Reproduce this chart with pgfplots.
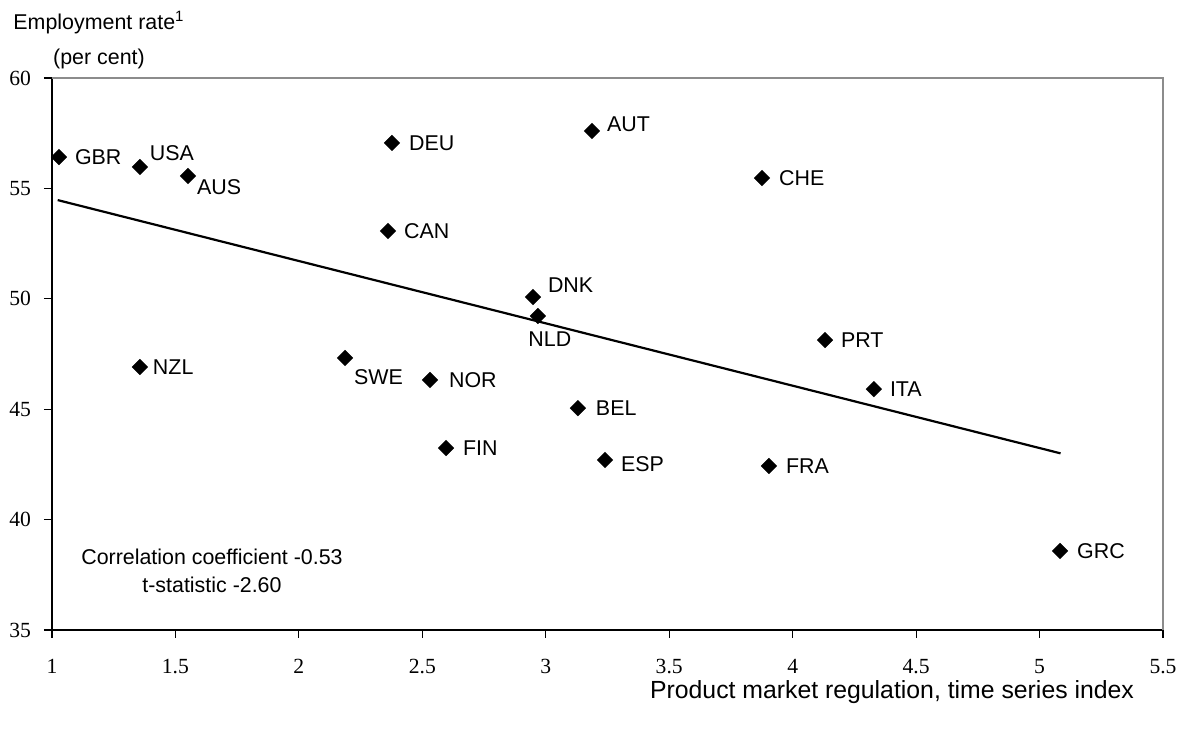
\documentclass[border=0pt]{standalone}
\usepackage{fontspec}
\setmainfont{Liberation Sans}
\newfontfamily\tickfont{Liberation Serif}
\usepackage{pgfplots}
\pgfplotsset{compat=1.18}

\begin{document}
\begin{tikzpicture}
\begin{axis}[
  scale only axis,
  width=555.5pt, height=276pt,
  xmin=1, xmax=5.5, ymin=35, ymax=60,
  axis x line=bottom, axis y line=left,
  axis line style={-, line width=0.8pt, black},
  xtick={1,1.5,2,2.5,3,3.5,4,4.5,5,5.5},
  ytick={35,40,45,50,55,60},
  tick align=outside,
  major tick length=4pt,
  tick style={black, line width=0.6pt},
  /pgf/number format/assume math mode=true,
  ticklabel style={font=\tickfont\fontsize{10.8}{12}\selectfont},
  xticklabel style={yshift=-7pt},
  yticklabel style={xshift=-3pt},
  clip=false,
]
\draw[gray!90, line width=0.8pt] (rel axis cs:0,1) -- (rel axis cs:1,1) -- (rel axis cs:1,0);
\coordinate (sw) at (rel axis cs:0,0);
\coordinate (ne) at (rel axis cs:1,1);
\addplot[black, line width=1.1pt] coordinates {(1.023,54.47) (5.085,43.0)};
\addplot[
  only marks,
  mark=square*,
  mark size=2.8pt,
  mark options={rotate=45, fill=black, draw=black, line width=0.1pt},
  point meta=explicit symbolic,
  visualization depends on={value \thisrow{anc} \as \anc},
  visualization depends on={\thisrow{dx} \as \dx},
  visualization depends on={\thisrow{dy} \as \dy},
  nodes near coords,
  nodes near coords style={anchor=\anc, xshift=\dx pt, yshift=\dy pt, inner sep=0pt, font=\fontsize{10.7}{12}\selectfont, text=black},
] table[x=x, y=y, meta=lab] {
x y lab dx dy anc
1.028 56.42 GBR 8 0 west
1.356 55.97 USA 5 7 west
1.551 55.56 AUS 4.5 -5.5 west
2.377 57.06 DEU 8.5 0 west
3.187 57.60 AUT 7.5 3.5 west
3.876 55.47 CHE 8.5 0 west
2.361 53.07 CAN 8 0 west
2.948 50.08 DNK 7.5 6 west
2.968 49.22 NLD 6 -11.5 center
4.131 48.13 PRT 8 0 west
1.356 46.91 NZL 6.5 0 west
2.187 47.32 SWE 4.5 -9.5 west
2.531 46.32 NOR 9.5 0 west
4.329 45.91 ITA 8 0 west
3.130 45.05 BEL 9 0 west
2.596 43.24 FIN 8.5 0 west
3.240 42.70 ESP 8 -2 west
3.904 42.43 FRA 8.5 0 west
5.083 38.58 GRC 8.5 0 west
};
\node[align=center, font=\fontsize{10.7}{14}\selectfont] at (rel axis cs:0.144,0.107) {Correlation coefficient -0.53\\t-statistic -2.60};
\end{axis}
\node[align=center, font=\fontsize{10.7}{17.5}\selectfont, anchor=center] at ([xshift=23.5pt,yshift=19pt]ne -| sw) {Employment rate\textsuperscript{1}\\(per cent)};
\node[font=\fontsize{12.4}{14}\selectfont] at ([xshift=420pt,yshift=-31pt]sw) {Product market regulation, time series index};
\pgfresetboundingbox
\path ([xshift=-26pt,yshift=-50pt]sw) rectangle ([xshift=9pt,yshift=39pt]ne);
\end{tikzpicture}
\end{document}
